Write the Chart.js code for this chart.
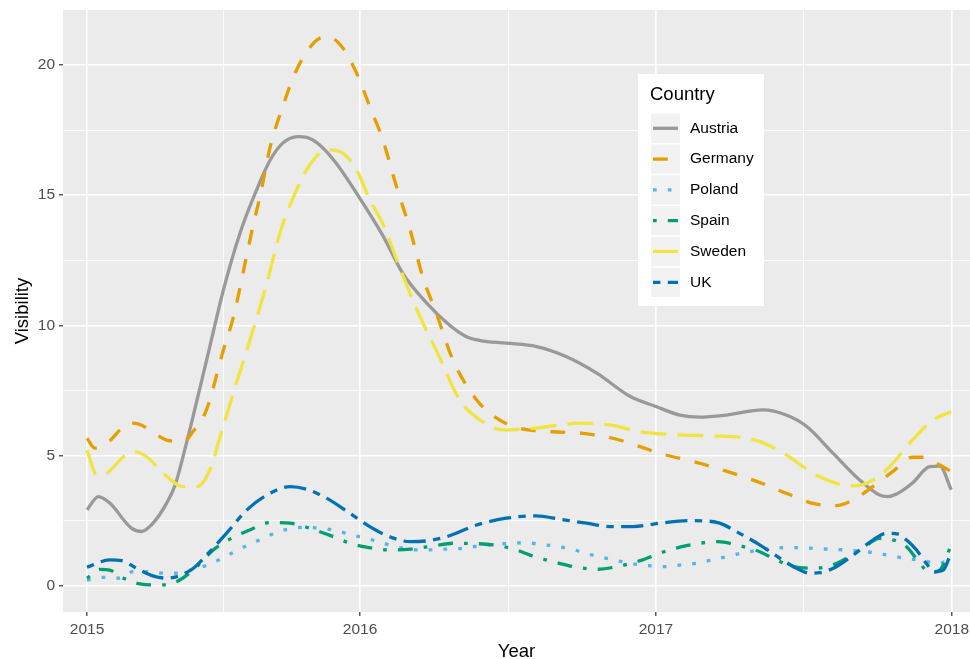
<!DOCTYPE html>
<html><head><meta charset="utf-8">
<script src="https://cdn.jsdelivr.net/npm/chart.js@4.4.0/dist/chart.umd.min.js"></script>
<style>html,body{margin:0;padding:0;background:#fff}#wrap{width:970px;height:659px;position:relative}</style>
</head><body><div id="wrap"><canvas id="c"></canvas></div>
<script>
// ---- data (x = week index from start of 2015) ----
const yearTicks = [0, 48, 100, 152];
const yearLabels = ['2015', '2016', '2017', '2018'];
const yMajor = [0, 5, 10, 15, 20];
const xTitle = 'Year';
const yTitle = 'Visibility';
const legendTitle = 'Country';
const countries = ['Austria', 'Germany', 'Poland', 'Spain', 'Sweden', 'UK'];

const austriaX = [0,2,4,7.8,9.6,11.6,14,15.5,17.5,19.3,21.6,23.9,26.9,29.8,32.2,34.4,37.1,38.6,40.9,43.9,47.4,52,55.5,59.7,63.8,66.7,69.1,73.7,79,84.3,89.6,95.5,100.1,104.2,107.7,112.4,118.8,122.9,126.5,131.1,135.8,139.3,140.7,142.3,145.1,148.1,149.9,151.9];
const austriaY = [2.92,3.43,3.18,2.22,2.09,2.41,3.18,3.88,5.5,7.1,9.2,11.3,13.55,15.2,16.35,17.0,17.25,17.22,16.93,16.2,15.07,13.45,12.0,10.86,10.0,9.57,9.42,9.32,9.19,8.8,8.17,7.27,6.88,6.56,6.48,6.56,6.76,6.56,6.12,5.1,4.07,3.49,3.43,3.53,3.95,4.58,4.6,3.69];

const germanyX = [0,1.4,3.5,7.6,9,12.8,14,16.9,18.6,21,23.9,25.7,27.8,29.2,30.4,32.2,34.4,36.8,40.1,42.3,45,47.4,49.7,52,54.4,56.8,59,61.4,64.3,68.5,72,76.1,81.9,87.2,92.4,97.2,100.7,107.7,117,122.9,127.6,131.7,134.6,138.1,141.6,145.1,146.9,149.9,151.9];
const germanyY = [5.67,5.29,5.48,6.25,6.22,5.73,5.6,5.54,5.92,6.76,9.0,10.3,12.4,13.85,14.94,16.86,18.4,19.8,20.9,21.09,20.64,19.68,18.4,17.12,15.33,13.67,11.87,10.47,8.68,7.14,6.44,6.05,5.92,5.86,5.67,5.35,5.09,4.71,4.07,3.56,3.17,3.08,3.3,3.81,4.39,4.94,4.94,4.64,4.39];

const polandX = [0,2.9,5.5,8.1,10.8,13.4,16,18.7,21.3,23.7,26,28.3,31,33.3,36,38.6,41.2,43.9,46.5,49.1,51.8,54.1,56.8,59.4,62,64.7,67.3,69.9,72.6,75.5,78.1,80.8,83.4,86,88.7,91.3,94,96.6,99.2,101.9,104.5,107.1,109.8,112.4,115,117.7,120.3,122.9,125.6,128.2,130.8,133.5,136.1,138.8,141.4,144,147.5,149.3,151.9];
const polandY = [0.23,0.33,0.3,0.55,0.55,0.49,0.49,0.64,0.81,1.06,1.32,1.57,1.83,2.06,2.21,2.25,2.21,2.12,1.96,1.83,1.66,1.51,1.41,1.38,1.41,1.42,1.49,1.56,1.61,1.65,1.64,1.57,1.49,1.36,1.19,1.06,0.93,0.83,0.77,0.74,0.81,0.87,1.0,1.12,1.26,1.36,1.43,1.47,1.47,1.43,1.41,1.38,1.33,1.26,1.15,1.06,0.95,0.85,1.02];

const spainX = [0,2.3,4,6.4,9.3,12.2,13.7,16.3,19.3,22.2,25.4,28.6,32.2,35.7,39.2,43.3,46.2,49.1,53.2,56.8,60.9,64.4,69.6,72.6,75.5,79,82.5,86,89.6,93.1,97.2,100.7,104.2,107.7,110.9,114.2,117.7,121.2,124.1,127.6,130.6,133.5,136.4,139.3,141.7,144,146.4,148.1,149.9,151.9];
const spainY = [0.3,0.64,0.61,0.3,0.08,0.04,0.04,0.23,0.74,1.38,1.83,2.15,2.43,2.41,2.21,1.89,1.64,1.49,1.38,1.41,1.54,1.64,1.61,1.54,1.38,1.1,0.9,0.72,0.64,0.74,0.97,1.26,1.49,1.64,1.7,1.57,1.36,1.0,0.74,0.68,0.77,1.06,1.45,1.83,1.77,1.51,0.87,0.51,0.61,1.57];

const swedenX = [0,1.7,3.5,6.4,8.4,10.5,13.4,16.9,19.3,21.6,23.4,25.7,28.3,31.6,33.9,36.3,38.6,40.9,42.4,45,47.4,49.7,52,55,58.3,61.8,65.5,69.1,73.2,78.4,83.1,86.6,91.9,97.2,104.2,109.5,115.3,118.3,122.9,127.6,131.7,134.7,137.6,141.1,144.6,148.7,151.9];
const swedenY = [5.22,4.26,4.33,4.96,5.16,4.96,4.33,3.81,3.81,4.45,5.73,7.4,9.2,11.62,13.54,14.94,15.97,16.61,16.74,16.61,15.97,14.82,13.9,12.2,10.45,8.85,7.14,6.37,5.99,6.05,6.18,6.25,6.18,5.92,5.8,5.76,5.69,5.54,5.03,4.33,3.94,3.84,4.0,4.58,5.48,6.37,6.69];

const ukX = [0,4,6.1,8.7,11.7,14,15.8,18.7,21.6,24.5,28.1,31.6,35.7,38.6,42.1,46.2,49.7,53.2,56.8,59.7,63.2,68.5,73.7,79,83.1,87.8,91.9,96,100.7,106,108.3,111.2,114.7,118.3,121.8,124.7,127,128.8,131.7,134.7,138.2,140.5,142.6,144,145.8,147.5,149,150.5,151.9];
const ukY = [0.72,1.0,0.97,0.68,0.38,0.3,0.36,0.68,1.32,2.02,2.92,3.49,3.81,3.71,3.37,2.79,2.28,1.89,1.7,1.73,1.89,2.34,2.6,2.69,2.56,2.41,2.28,2.28,2.41,2.51,2.5,2.41,2.02,1.57,1.06,0.68,0.49,0.51,0.74,1.19,1.77,2.02,1.99,1.77,1.38,0.87,0.55,0.61,1.3];

// ---- styling ----
const FONT = '"Liberation Sans", Arial, Helvetica, sans-serif';
const colors = ['#999999', '#E69F00', '#56B4E9', '#009E73', '#F0E442', '#0072B2'];
const U = 3.7;
const dashes = [[], [4*U, 4*U], [U, 3*U], [U, 3*U, 4*U, 3*U], [7*U, 3*U], [2*U, 2*U, 6*U, 2*U]];
const LW = 3.3;

const seriesX = [austriaX, germanyX, polandX, spainX, swedenX, ukX];
const seriesY = [austriaY, germanyY, polandY, spainY, swedenY, ukY];

const datasets = countries.map((name, k) => ({
  label: name,
  data: seriesX[k].map((x, i) => ({ x: x, y: seriesY[k][i] })),
  borderColor: colors[k],
  borderWidth: LW,
  borderDash: dashes[k],
  borderCapStyle: 'butt',
  borderJoinStyle: 'round',
  pointRadius: 0,
  pointHoverRadius: 0,
  fill: false,
  cubicInterpolationMode: 'monotone',
  order: countries.length - k
}));

function withMinor(major) {
  const out = [];
  major.forEach((v, i) => { out.push(v); if (i < major.length - 1) out.push((v + major[i + 1]) / 2); });
  return out;
}

const panelBg = {
  id: 'panelBg',
  beforeDraw(chart) {
    const { ctx, chartArea: a } = chart;
    ctx.save();
    ctx.fillStyle = '#EBEBEB';
    ctx.fillRect(a.left, a.top, a.right - a.left, a.bottom - a.top);
    ctx.restore();
  }
};

const ggLegend = {
  id: 'ggLegend',
  afterDraw(chart) {
    const ctx = chart.ctx;
    ctx.save();
    ctx.fillStyle = '#FFFFFF';
    ctx.fillRect(638, 74, 126, 232);
    ctx.fillStyle = '#000000';
    ctx.textBaseline = 'middle';
    ctx.textAlign = 'left';
    ctx.font = '18.5px ' + FONT;
    ctx.fillText(legendTitle, 650, 95);
    chart.data.datasets.forEach((ds, i) => {
      const cy = 128.3 + i * 30.8;
      ctx.fillStyle = '#F2F2F2';
      ctx.fillRect(651, cy - 14.6, 29, 29.2);
      ctx.strokeStyle = ds.borderColor;
      ctx.lineWidth = ds.borderWidth;
      ctx.lineCap = 'butt';
      ctx.setLineDash(ds.borderDash);
      ctx.beginPath();
      ctx.moveTo(653, cy);
      ctx.lineTo(678, cy);
      ctx.stroke();
      ctx.setLineDash([]);
      ctx.fillStyle = '#000000';
      ctx.font = '15.5px ' + FONT;
      ctx.fillText(ds.label, 690, cy);
    });
    ctx.restore();
  }
};

new Chart(document.getElementById('c'), {
  type: 'line',
  data: { datasets: datasets },
  plugins: [panelBg, ggLegend],
  options: {
    responsive: true,
    maintainAspectRatio: false,
    devicePixelRatio: 1,
    animation: false,
    events: [],
    layout: { padding: { top: 10, left: 0, right: 0, bottom: 0 }, autoPadding: false },
    plugins: { legend: { display: false }, tooltip: { enabled: false } },
    scales: {
      x: {
        type: 'linear',
        min: -4.22,
        max: 155.2,
        afterBuildTicks: s => { s.ticks = withMinor(yearTicks).map(v => ({ value: v })); },
        ticks: {
          autoSkip: false, maxRotation: 0, minRotation: 0, padding: 4,
          color: '#4D4D4D', font: { family: FONT, size: 15.5 },
          callback: v => { const i = yearTicks.indexOf(v); return i >= 0 ? yearLabels[i] : ''; }
        },
        grid: {
          color: '#FFFFFF',
          lineWidth: c => yearTicks.includes(c.tick.value) ? 1.6 : 0.8,
          drawTicks: true, tickLength: 4, tickWidth: 1.2,
          tickColor: c => yearTicks.includes(c.tick.value) ? '#333333' : 'rgba(0,0,0,0)'
        },
        border: { display: false },
        title: { display: true, text: xTitle, color: '#000000', font: { family: FONT, size: 18.5, lineHeight: 0.8 }, padding: 0 },
        afterFit: s => { s.height = 47; s.paddingLeft = 0; s.paddingRight = 0; }
      },
      y: {
        type: 'linear',
        min: -1.0,
        max: 22.11,
        afterBuildTicks: s => { s.ticks = withMinor(yMajor).map(v => ({ value: v })); },
        ticks: {
          autoSkip: false, padding: 4,
          color: '#4D4D4D', font: { family: FONT, size: 15.5 },
          callback: v => yMajor.includes(v) ? String(v) : ''
        },
        grid: {
          color: '#FFFFFF',
          lineWidth: c => yMajor.includes(c.tick.value) ? 1.6 : 0.8,
          drawTicks: true, tickLength: 4, tickWidth: 1.2,
          tickColor: c => yMajor.includes(c.tick.value) ? '#333333' : 'rgba(0,0,0,0)'
        },
        border: { display: false },
        title: { display: true, text: yTitle, color: '#000000', font: { family: FONT, size: 18.5 }, padding: { top: 12, bottom: 0 } },
        afterFit: s => { s.width = 63; s.paddingTop = 0; s.paddingBottom = 0; }
      }
    }
  }
});
</script></body></html>
